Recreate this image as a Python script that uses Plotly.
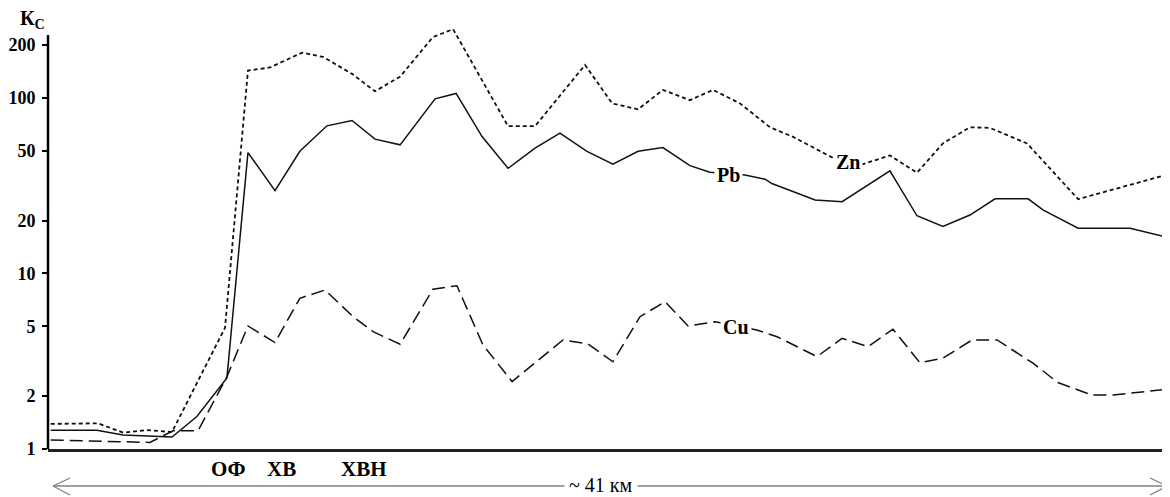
import math
import plotly.graph_objects as go

# distance along profile, km
zn_x = [0.1, 1.83, 2.75, 3.62, 4.54, 6.48, 7.32, 8.13, 9.30, 10.07, 11.13, 11.97, 12.89, 14.09, 14.83,
        16.84, 17.83, 19.66, 20.65, 21.60, 22.51, 23.50, 24.34, 25.33, 26.43, 27.27, 28.74, 29.54,
        30.82, 31.81, 32.76, 33.75, 34.48, 35.84, 37.71, 40.96]
zn_y = [1.39, 1.40, 1.24, 1.28, 1.25, 4.9, 143, 149, 181, 171, 137, 109, 132, 222, 246,
        69, 69, 154, 93, 86, 111, 97, 111, 93, 68, 60, 45.5, 40.5,
        47, 37.5, 55, 68, 67.5, 55, 26.5, 36.5]

pb_x = [0.1, 1.79, 2.75, 4.54, 5.45, 6.55, 7.32, 8.31, 9.22, 10.21, 11.13, 11.97, 12.89, 14.17, 14.94,
        15.89, 16.84, 17.83, 18.74, 19.73, 20.68, 21.60, 22.51, 23.50, 24.23, 25.51, 26.25, 26.50,
        28.08, 29.07, 30.82, 31.81, 32.76, 33.75, 34.67, 35.88, 36.42, 37.71, 39.61, 40.96]
pb_y = [1.28, 1.28, 1.20, 1.17, 1.53, 2.54, 48.8, 29.6, 49.6, 69.3, 74.3, 58.2, 54, 98.7, 106,
        60.2, 39.7, 51.7, 63, 49.6, 41.9, 49.6, 52.1, 41.1, 37.7, 36.4, 34.4, 32.5,
        26.2, 25.6, 38.4, 21.3, 18.5, 21.5, 26.6, 26.6, 23.0, 18.1, 18.1, 16.1]

cu_x = [0.1, 1.79, 2.89, 3.73, 4.58, 5.49, 6.55, 7.32, 8.31, 9.22, 10.14, 11.17, 11.90, 12.89, 14.09,
        14.97, 15.92, 16.99, 18.85, 19.77, 20.68, 21.67, 22.59, 23.43, 24.42, 25.95, 26.69, 27.53,
        28.15, 29.07, 30.02, 30.93, 31.92, 32.76, 33.83, 34.74, 36.06, 36.97, 38.22, 38.99, 40.96]
cu_y = [1.125, 1.11, 1.09, 1.09, 1.27, 1.27, 2.58, 5.02, 4.04, 7.22, 8.05, 5.67, 4.66, 3.95, 8.13,
        8.51, 3.92, 2.42, 4.18, 3.96, 3.14, 5.67, 6.9, 5.02, 5.31, 4.76, 4.36, 3.75,
        3.36, 4.27, 3.83, 4.81, 3.1, 3.29, 4.18, 4.18, 3.08, 2.39, 2.03, 2.03, 2.19]

y_ticks = [1, 2, 5, 10, 20, 50, 100, 200]
series_labels = [("Pb", 24.9, 36.4), ("Zn", 29.3, 43.0), ("Cu", 25.2, 4.95)]
zone_labels = [("ОФ", 6.59), ("ХВ", 8.53), ("ХВН", 11.57)]
total_len = 41

SERIF = "Liberation Serif, Times New Roman, serif"
OFF = 8  # default page body margin
W, H = 1160, 488
ML, MR, MT, MB = 40, 0, 17, 47
PW, PH = W - ML - MR, H - MT - MB


def px(xp):
    """page pixel x -> paper x"""
    return (xp - OFF - ML) / PW


def py(yp):
    """page pixel y -> paper y"""
    return (H - MB - (yp - OFF)) / PH


fig = go.Figure()
fig.add_trace(go.Scatter(x=zn_x, y=zn_y, mode="lines", line=dict(color="#111", width=1.8, dash="4px,3px"),
                         showlegend=False))
fig.add_trace(go.Scatter(x=pb_x, y=pb_y, mode="lines", line=dict(color="#111", width=1.5),
                         showlegend=False))
fig.add_trace(go.Scatter(x=cu_x, y=cu_y, mode="lines", line=dict(color="#111", width=1.5, dash="13px,6px"),
                         showlegend=False))

annotations = []
for name, xv, yv in series_labels:
    annotations.append(dict(x=xv, y=math.log10(yv), xref="x", yref="y", text=f"<b>{name}</b>",
                            showarrow=False, bgcolor="white", borderpad=2,
                            xanchor="center", yanchor="middle",
                            font=dict(family=SERIF, size=20, color="black")))
for name, xv in zone_labels:
    annotations.append(dict(x=xv, y=py(469), xref="x", yref="paper", text=f"<b>{name}</b>",
                            showarrow=False, xanchor="center", yanchor="middle",
                            font=dict(family=SERIF, size=21, color="black")))
annotations.append(dict(x=px(32), y=py(20), xref="paper", yref="paper", text="<b>К<sub>С</sub></b>",
                        showarrow=False, xanchor="center", yanchor="middle",
                        font=dict(family=SERIF, size=20, color="black")))
annotations.append(dict(x=px(601), y=py(485), xref="paper", yref="paper", text=f"~ {total_len} км",
                        showarrow=False, bgcolor="white", borderpad=4,
                        xanchor="center", yanchor="middle",
                        font=dict(family=SERIF, size=20, color="black")))

gray = "#808080"
shapes = [
    # y axis line
    dict(type="line", xref="paper", yref="paper", x0=0, x1=0, y0=0, y1=py(35),
         line=dict(color="black", width=2.5)),
    # distance arrow
    dict(type="line", xref="paper", yref="paper", x0=px(53), x1=px(1167), y0=py(486), y1=py(486),
         line=dict(color=gray, width=1.5)),
    dict(type="line", xref="paper", yref="paper", x0=px(53), x1=px(70), y0=py(486), y1=py(478),
         line=dict(color=gray, width=1.3)),
    dict(type="line", xref="paper", yref="paper", x0=px(53), x1=px(70), y0=py(486), y1=py(495),
         line=dict(color=gray, width=1.3)),
    dict(type="line", xref="paper", yref="paper", x0=px(1167), x1=px(1150), y0=py(486), y1=py(478),
         line=dict(color=gray, width=1.3)),
    dict(type="line", xref="paper", yref="paper", x0=px(1167), x1=px(1150), y0=py(486), y1=py(495),
         line=dict(color=gray, width=1.3)),
]

fig.update_layout(
    width=W, height=H,
    margin=dict(l=ML, r=MR, t=MT, b=MB, pad=0, autoexpand=False),
    paper_bgcolor="white", plot_bgcolor="white",
    annotations=annotations, shapes=shapes,
    xaxis=dict(range=[0, total_len], showgrid=False, zeroline=False, showticklabels=False, ticks="",
               showline=True, linecolor="#222", linewidth=2.5),
    yaxis=dict(type="log", range=[0, math.log10(260)], showgrid=False, zeroline=False,
               tickvals=y_ticks, ticktext=[f"<b>{v}</b>" for v in y_ticks],
               ticks="outside", ticklen=5, tickwidth=2, tickcolor="black",
               ticklabelstandoff=3,
               showline=False,
               tickfont=dict(family=SERIF, size=18, color="black")),
)

fig.write_html("out.html")
